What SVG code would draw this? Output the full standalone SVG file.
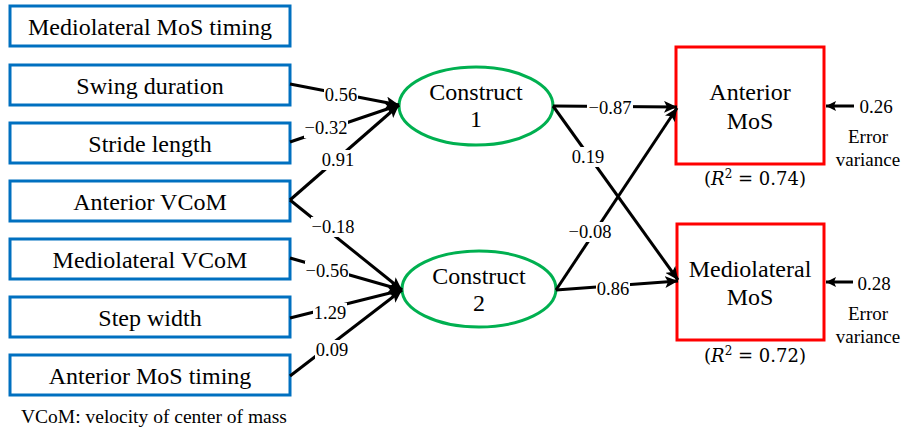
<svg xmlns="http://www.w3.org/2000/svg" width="904" height="433" viewBox="0 0 904 433">
<defs>
<marker id="ah" markerUnits="userSpaceOnUse" markerWidth="14" markerHeight="12" refX="13" refY="6" orient="auto"><path d="M0,0 L13,6 L0,12 L3,6 Z" fill="#000"/></marker>
<marker id="ahs" markerUnits="userSpaceOnUse" markerWidth="11" markerHeight="10" refX="10" refY="5" orient="auto"><path d="M0,0 L10,5 L0,10 L2,5 Z" fill="#000"/></marker>
</defs>
<style>
.box{fill:#fff;stroke:#0070C0;stroke-width:3}
.lat{fill:#fff;stroke:#00B050;stroke-width:3}
.out{fill:#fff;stroke:#FF0000;stroke-width:3}
.t{font-family:"Liberation Serif","Times New Roman",serif;font-size:24px;fill:#000;text-anchor:middle}
.s{font-family:"Liberation Serif","Times New Roman",serif;font-size:19px;fill:#000;text-anchor:middle}
.lbl{font-family:"Liberation Serif","Times New Roman",serif;font-size:18.5px;fill:#000;text-anchor:middle}
.bg{fill:#fff;stroke:none}
.m{font-family:"DejaVu Serif",serif;font-size:18px;fill:#000;text-anchor:middle}
.c{fill:none;stroke:#000;stroke-width:3}
</style>
<g id="n-mlmostiming"><rect class="box" x="10" y="6" width="280" height="40"/><text class="t" x="150" y="34.5">Mediolateral MoS timing</text></g>
<g id="n-swing"><rect class="box" x="10" y="65" width="280" height="40"/><text class="t" x="150" y="93.5">Swing duration</text></g>
<g id="n-stride"><rect class="box" x="10" y="123" width="280" height="40"/><text class="t" x="150" y="151.5">Stride length</text></g>
<g id="n-avcom"><rect class="box" x="10" y="181" width="280" height="40"/><text class="t" x="150" y="209.5">Anterior VCoM</text></g>
<g id="n-mlvcom"><rect class="box" x="10" y="239" width="280" height="40"/><text class="t" x="150" y="267.5">Mediolateral VCoM</text></g>
<g id="n-stepw"><rect class="box" x="10" y="297" width="280" height="40"/><text class="t" x="150" y="325.5">Step width</text></g>
<g id="n-amostiming"><rect class="box" x="10" y="355" width="280" height="40"/><text class="t" x="150" y="383.5">Anterior MoS timing</text></g>
<g id="n-c1"><ellipse class="lat" cx="476" cy="106" rx="77" ry="39"/><text class="t" x="476" y="100">Construct</text><text class="t" x="476" y="127">1</text></g>
<g id="n-c2"><ellipse class="lat" cx="479" cy="289" rx="77" ry="38"/><text class="t" x="479" y="284">Construct</text><text class="t" x="479" y="311">2</text></g>
<g id="n-amos"><rect class="out" x="676" y="47" width="148" height="117"/><text class="t" x="750" y="100">Anterior</text><text class="t" x="750" y="129">MoS</text>
<text class="m" x="755" y="185">(<tspan font-style="italic">R</tspan><tspan font-size="12" dy="-7">2</tspan><tspan dy="7"> = 0.74)</tspan></text></g>
<g id="n-mlmos"><rect class="out" x="677" y="224" width="147" height="116"/><text class="t" x="750" y="277">Mediolateral</text><text class="t" x="750" y="305">MoS</text>
<text class="m" x="755" y="362">(<tspan font-style="italic">R</tspan><tspan font-size="12" dy="-7">2</tspan><tspan dy="7"> = 0.72)</tspan></text></g>
<g id="n-err1"><text class="s" x="876" y="113">0.26</text><text class="s" x="868" y="143">Error</text><text class="s" x="868" y="166">variance</text></g>
<g id="n-err2"><text class="s" x="874" y="290">0.28</text><text class="s" x="868" y="320">Error</text><text class="s" x="868" y="343">variance</text></g>
<g id="connectors">
<line class="c" x1="290" y1="84" x2="399" y2="105" marker-end="url(#ah)"/>
<line class="c" x1="290" y1="142" x2="399" y2="105" marker-end="url(#ah)"/>
<line class="c" x1="290" y1="200" x2="399" y2="105" marker-end="url(#ah)"/>
<line class="c" x1="290" y1="200" x2="402" y2="290" marker-end="url(#ah)"/>
<line class="c" x1="290" y1="258" x2="402" y2="290" marker-end="url(#ah)"/>
<line class="c" x1="290" y1="318" x2="402" y2="290" marker-end="url(#ah)"/>
<line class="c" x1="290" y1="376" x2="402" y2="290" marker-end="url(#ah)"/>
<line class="c" x1="553" y1="106" x2="677" y2="107" marker-end="url(#ah)"/>
<line class="c" x1="553" y1="106" x2="678" y2="280" marker-end="url(#ah)"/>
<line class="c" x1="556" y1="290" x2="677" y2="108" marker-end="url(#ah)"/>
<line class="c" x1="556" y1="290" x2="678" y2="281" marker-end="url(#ah)"/>
<line class="c" x1="854" y1="106" x2="826" y2="106" marker-end="url(#ahs)"/>
<line class="c" x1="853" y1="282" x2="826" y2="282" marker-end="url(#ahs)"/>
<rect class="bg" x="324" y="85" width="34" height="20"/><text class="lbl" x="341" y="101">0.56</text>
<rect class="bg" x="304" y="118" width="44" height="20"/><text class="lbl" x="326" y="134">−0.32</text>
<rect class="bg" x="321" y="150" width="34" height="20"/><text class="lbl" x="338" y="166">0.91</text>
<rect class="bg" x="311" y="217" width="44" height="20"/><text class="lbl" x="333" y="233">−0.18</text>
<rect class="bg" x="305" y="261" width="44" height="20"/><text class="lbl" x="327" y="277">−0.56</text>
<rect class="bg" x="313" y="303" width="34" height="20"/><text class="lbl" x="330" y="319">1.29</text>
<rect class="bg" x="315" y="340" width="34" height="20"/><text class="lbl" x="332" y="356">0.09</text>
<rect class="bg" x="587" y="98" width="46" height="20"/><text class="lbl" x="610" y="114">−0.87</text>
<rect class="bg" x="571" y="147" width="34" height="20"/><text class="lbl" x="588" y="163">0.19</text>
<rect class="bg" x="568" y="222" width="44" height="20"/><text class="lbl" x="590" y="238">−0.08</text>
<rect class="bg" x="596" y="279" width="34" height="20"/><text class="lbl" x="613" y="295">0.86</text>
</g>
<text x="21" y="423" font-family="'Liberation Serif','Times New Roman',serif" font-size="19.5" fill="#000">VCoM: velocity of center of mass</text>
</svg>
